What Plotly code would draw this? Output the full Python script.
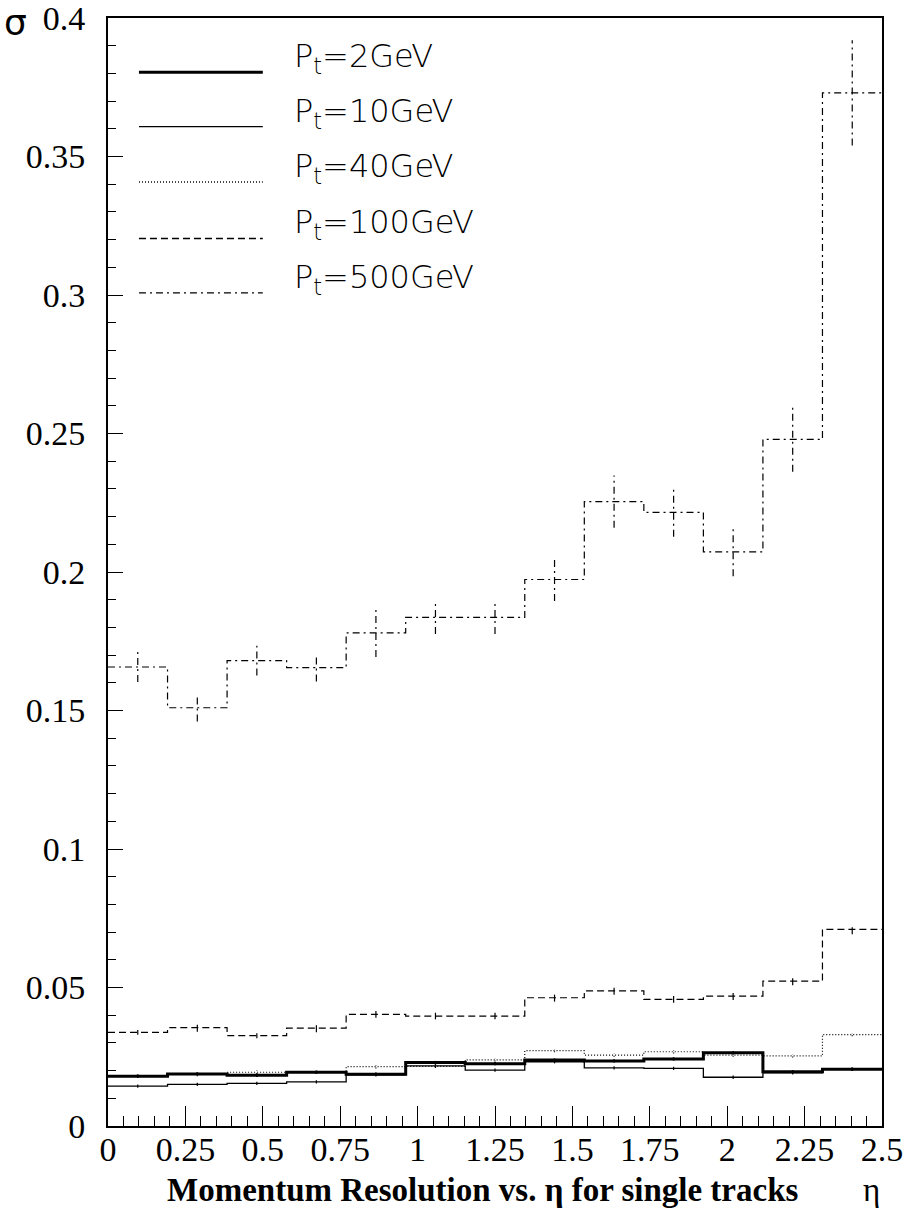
import numpy as np
import plotly.graph_objects as go

# Momentum resolution sigma vs eta, 13 eta bins in [0, 2.5]
n_bins = 13
eta_min, eta_max = 0.0, 2.5

labels = ["2GeV", "10GeV", "40GeV", "100GeV", "500GeV"]

sigma_2 = [0.0180, 0.0188, 0.0183, 0.0194, 0.0187, 0.0229, 0.0225,
           0.0238, 0.0235, 0.0242, 0.0264, 0.0196, 0.0205]
err_2 = [0.0006] * 13

sigma_10 = [0.0144, 0.0150, 0.0154, 0.0159, 0.0185, 0.0217, 0.0202,
            0.0232, 0.0210, 0.0208, 0.0176, 0.0192, 0.0205]
err_10 = [0.0006] * 13

sigma_40 = [0.0180, 0.0186, 0.0194, 0.0196, 0.0214, 0.0215, 0.0239,
            0.0272, 0.0256, 0.0268, 0.0256, 0.0253, 0.0330]
err_40 = [0.0006] * 13

sigma_100 = [0.0338, 0.0355, 0.0326, 0.0353, 0.0403, 0.0397, 0.0397,
             0.0463, 0.0488, 0.0457, 0.0469, 0.0523, 0.0710]
err_100 = [0.0009, 0.0015, 0.0009, 0.0015, 0.0012, 0.0012, 0.0012,
           0.0014, 0.0014, 0.0012, 0.0014, 0.0015, 0.0018]

sigma_500 = [0.1657, 0.1510, 0.1680, 0.1655, 0.1780, 0.1836, 0.1836,
             0.1973, 0.2254, 0.2215, 0.2073, 0.2479, 0.3730]
err_500 = [0.0054, 0.0050, 0.0054, 0.0050, 0.0087, 0.0060, 0.0060,
           0.0078, 0.0094, 0.0088, 0.0088, 0.0117, 0.0190]

edges = np.linspace(eta_min, eta_max, n_bins + 1)
centers = 0.5 * (edges[:-1] + edges[1:])

styles = {
    "2GeV": dict(width=3.0, dash="solid"),
    "10GeV": dict(width=1.3, dash="solid"),
    "40GeV": dict(width=1.2, dash="1px,2px"),
    "100GeV": dict(width=1.2, dash="7px,4px"),
    "500GeV": dict(width=1.2, dash="7px,4px,2px,4px"),
}

series = {
    "2GeV": (sigma_2, err_2),
    "10GeV": (sigma_10, err_10),
    "40GeV": (sigma_40, err_40),
    "100GeV": (sigma_100, err_100),
    "500GeV": (sigma_500, err_500),
}

fig = go.Figure()

for name in ["500GeV", "100GeV", "40GeV", "10GeV", "2GeV"]:
    vals, errs = series[name]
    st = styles[name]
    # histogram outline
    fig.add_trace(go.Scatter(
        x=list(edges), y=list(vals) + [vals[-1]],
        mode="lines", line=dict(color="black", width=st["width"], dash=st["dash"], shape="hv"),
        showlegend=False, hoverinfo="skip"))
    # vertical error bars at bin centres
    ex, ey = [], []
    for c, v, e in zip(centers, vals, errs):
        ex += [c, c, None]
        ey += [v - e, v + e, None]
    fig.add_trace(go.Scatter(
        x=ex, y=ey, mode="lines",
        line=dict(color="black", width=1.2 if name != "2GeV" else 1.8, dash=st["dash"]),
        showlegend=False, hoverinfo="skip"))

# legend drawn as line samples + labels
leg_y = [0.951, 0.902, 0.852, 0.801, 0.752]
for name, yy in zip(labels, leg_y):
    st = styles[name]
    fig.add_shape(type="line", xref="paper", yref="paper",
                  x0=0.040, x1=0.200, y0=yy, y1=yy,
                  line=dict(color="black", width=st["width"] if name == "2GeV" else 1.3,
                            dash=st["dash"]))
    fig.add_annotation(xref="paper", yref="paper", x=0.238, y=yy,
                       xanchor="left", yanchor="bottom", yshift=-9,
                       text="P<sub>t</sub>=" + name, showarrow=False,
                       font=dict(family="DejaVu Sans", size=32, weight=200, color="black"))

serif = "Liberation Serif"

fig.add_annotation(xref="paper", yref="paper", x=0.485, y=-0.058,
                   xanchor="center", yanchor="middle",
                   text="<b>Momentum Resolution vs. η for single tracks</b>",
                   showarrow=False, font=dict(family=serif, size=33, color="black"))
fig.add_annotation(xref="paper", yref="paper", x=0.987, y=-0.058,
                   xanchor="center", yanchor="middle", text="η", showarrow=False,
                   font=dict(family=serif, size=33, color="black"))
fig.add_annotation(xref="paper", yref="paper", x=-0.119, y=0.996,
                   xanchor="center", yanchor="middle", text="σ", showarrow=False,
                   font=dict(family="DejaVu Sans", size=36, color="black"))

fig.update_xaxes(
    range=[eta_min, eta_max], tickmode="array",
    tickvals=[0, 0.25, 0.5, 0.75, 1, 1.25, 1.5, 1.75, 2, 2.25, 2.5],
    ticktext=["0", "0.25", "0.5", "0.75", "1", "1.25", "1.5", "1.75", "2", "2.25", "2.5"],
    ticks="inside", ticklen=20, tickwidth=1, tickcolor="black",
    minor=dict(ticks="inside", ticklen=10, dtick=0.05, tickcolor="black", tickwidth=1),
    showline=True, linecolor="black", linewidth=2, mirror=True,
    showgrid=False, zeroline=False, automargin=False,
    tickfont=dict(family=serif, size=34, color="black"),
    ticklabelstandoff=-8, ticklabeloverflow="allow",
)
fig.update_yaxes(
    range=[0, 0.4], tickmode="array",
    tickvals=[0, 0.05, 0.1, 0.15, 0.2, 0.25, 0.3, 0.35, 0.4],
    ticktext=["0", "0.05", "0.1", "0.15", "0.2", "0.25", "0.3", "0.35", "0.4"],
    ticks="inside", ticklen=15, tickwidth=1, tickcolor="black",
    minor=dict(ticks="inside", ticklen=8, dtick=0.01, tickcolor="black", tickwidth=1),
    showline=True, linecolor="black", linewidth=2, mirror=True,
    showgrid=False, zeroline=False, automargin=False,
    tickfont=dict(family=serif, size=34, color="black"),
    ticklabelstandoff=14, ticklabeloverflow="allow",
)

fig.update_layout(
    width=907, height=1218,
    margin=dict(l=108, r=25, t=18, b=92),
    paper_bgcolor="white", plot_bgcolor="white",
    showlegend=False,
)

fig.write_html("out.html")
